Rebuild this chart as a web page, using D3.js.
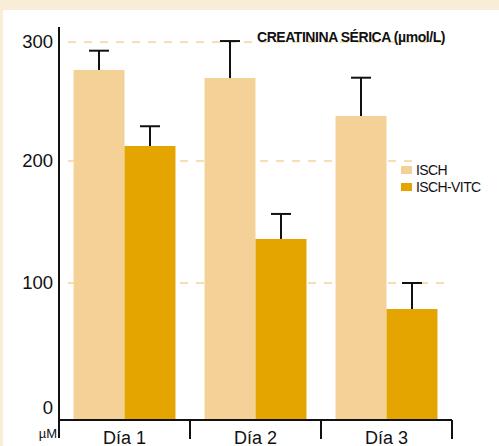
<!DOCTYPE html>
<html>
<head>
<meta charset="utf-8">
<script src="https://cdn.jsdelivr.net/npm/d3@7"></script>
<style>
  html, body { margin: 0; padding: 0; background: #f9edd7; }
  svg { display: block; font-family: "Liberation Sans", Arial, Helvetica, sans-serif; }
</style>
</head>
<body>
<svg id="chart" width="499" height="446"></svg>
<script>
// Serum creatinine (µmol/L) by day, ischemia vs ischemia + vitamin C
const days = ["Día 1", "Día 2", "Día 3"];
const seriesNames = ["ISCH", "ISCH-VITC"];
const ischValues = [276.5, 269.7, 237.8];
const ischErrors = [16.2, 31.1, 32.2];
const vitcValues = [212.6, 136.1, 79.2];
const vitcErrors = [16.6, 20.5, 20.8];
const yTicks = [0, 100, 200, 300];

const colors = { "ISCH": "#f4d197", "ISCH-VITC": "#e5a500" };
const gridColor = "#f5d49b";

const svg = d3.select("#chart");
const W = 499, H = 446;

// backdrop: beige frame with white panel
svg.append("rect").attr("x", 0).attr("y", 0).attr("width", W).attr("height", H).attr("fill", "#f9edd7");
svg.append("rect").attr("x", 3).attr("y", 10).attr("width", W - 3).attr("height", H - 10).attr("fill", "#ffffff");

const axisX = 59, baseY = 420;

// vertical scale (slightly uneven tick spacing in this drawing)
const y = d3.scaleLinear().domain(yTicks).range([408, 283, 161, 42]);

const x0 = d3.scaleBand().domain(days).range([axisX, 452]).padding(0);
const x1 = d3.scaleBand().domain(seriesNames).range([0, x0.bandwidth()])
  .paddingInner(0).paddingOuter(0.285);

const rows = days.map((d, i) => ({
  day: d,
  items: [
    { name: "ISCH", value: ischValues[i], err: ischErrors[i] },
    { name: "ISCH-VITC", value: vitcValues[i], err: vitcErrors[i] }
  ]
}));

// dashed gridlines
svg.append("g").selectAll("line")
  .data(yTicks.filter(t => t > 0))
  .join("line")
  .attr("x1", 68)
  .attr("x2", d => d === 200 ? 422 : 452)
  .attr("y1", d => y(d)).attr("y2", d => y(d))
  .attr("stroke", gridColor)
  .attr("stroke-width", 1.4)
  .attr("stroke-dasharray", "8,8");

// bars
const groups = svg.append("g").selectAll("g")
  .data(rows)
  .join("g")
  .attr("transform", d => `translate(${x0(d.day)},0)`);

groups.selectAll("rect")
  .data(d => d.items)
  .join("rect")
  .attr("x", d => x1(d.name))
  .attr("width", x1.bandwidth())
  .attr("y", d => y(d.value))
  .attr("height", d => baseY - y(d.value))
  .attr("fill", d => colors[d.name]);

// upper error bars
const capHalf = 10;
groups.selectAll("line.err")
  .data(d => d.items)
  .join("line")
  .attr("class", "err")
  .attr("x1", d => x1(d.name) + x1.bandwidth() / 2)
  .attr("x2", d => x1(d.name) + x1.bandwidth() / 2)
  .attr("y1", d => y(d.value))
  .attr("y2", d => y(d.value + d.err))
  .attr("stroke", "#111")
  .attr("stroke-width", 2);

groups.selectAll("line.cap")
  .data(d => d.items)
  .join("line")
  .attr("class", "cap")
  .attr("x1", d => x1(d.name) + x1.bandwidth() / 2 - capHalf)
  .attr("x2", d => x1(d.name) + x1.bandwidth() / 2 + capHalf)
  .attr("y1", d => y(d.value + d.err))
  .attr("y2", d => y(d.value + d.err))
  .attr("stroke", "#111")
  .attr("stroke-width", 2);

// y axis
const yAxis = svg.append("g")
  .attr("transform", `translate(${axisX},0)`)
  .call(d3.axisLeft(y).tickValues(yTicks).tickSize(0).tickPadding(6).tickFormat(d3.format("d")));
yAxis.select(".domain").remove();
yAxis.selectAll("text")
  .attr("font-size", 18.5)
  .attr("font-family", "'Liberation Sans', Arial, sans-serif")
  .attr("fill", "#111");

svg.append("line")
  .attr("x1", axisX).attr("x2", axisX)
  .attr("y1", 27).attr("y2", 438)
  .attr("stroke", "#111").attr("stroke-width", 2);

// x axis: baseline, ticks at band edges, day labels centered
svg.append("line")
  .attr("x1", axisX).attr("x2", 452)
  .attr("y1", baseY).attr("y2", baseY)
  .attr("stroke", "#111").attr("stroke-width", 2);

const edges = days.map(d => x0(d) + x0.bandwidth());
svg.append("g").selectAll("line")
  .data(edges)
  .join("line")
  .attr("x1", d => d).attr("x2", d => d)
  .attr("y1", baseY).attr("y2", 439)
  .attr("stroke", "#111").attr("stroke-width", 2);

const xAxis = svg.append("g")
  .attr("transform", `translate(0,${baseY})`)
  .call(d3.axisBottom(x0).tickSize(0).tickPadding(0));
xAxis.select(".domain").remove();
xAxis.selectAll("text")
  .attr("dy", null)
  .attr("y", 23.5)
  .attr("font-size", 18)
  .attr("font-family", "'Liberation Sans', Arial, sans-serif")
  .attr("fill", "#111");

svg.append("text")
  .attr("x", 57).attr("y", 438)
  .attr("text-anchor", "end")
  .attr("font-size", 13)
  .attr("fill", "#111")
  .text("µM");

// title
svg.append("text")
  .attr("x", 257).attr("y", 42)
  .attr("font-size", 14)
  .attr("font-weight", "bold")
  .attr("letter-spacing", -0.45)
  .attr("fill", "#111")
  .text("CREATININA SÉRICA (µmol/L)");

// legend
const legend = svg.append("g");
legend.append("rect")
  .attr("x", 413).attr("y", 160).attr("width", 76).attr("height", 36)
  .attr("fill", "#ffffff");
seriesNames.forEach((name, i) => {
  legend.append("rect")
    .attr("x", 401).attr("y", 166 + i * 17)
    .attr("width", 11).attr("height", 8)
    .attr("fill", colors[name]);
  legend.append("text")
    .attr("x", 416).attr("y", 175 + i * 17)
    .attr("font-size", 14)
    .attr("letter-spacing", -0.6)
    .attr("fill", "#111")
    .text(name);
});
</script>
</body>
</html>
